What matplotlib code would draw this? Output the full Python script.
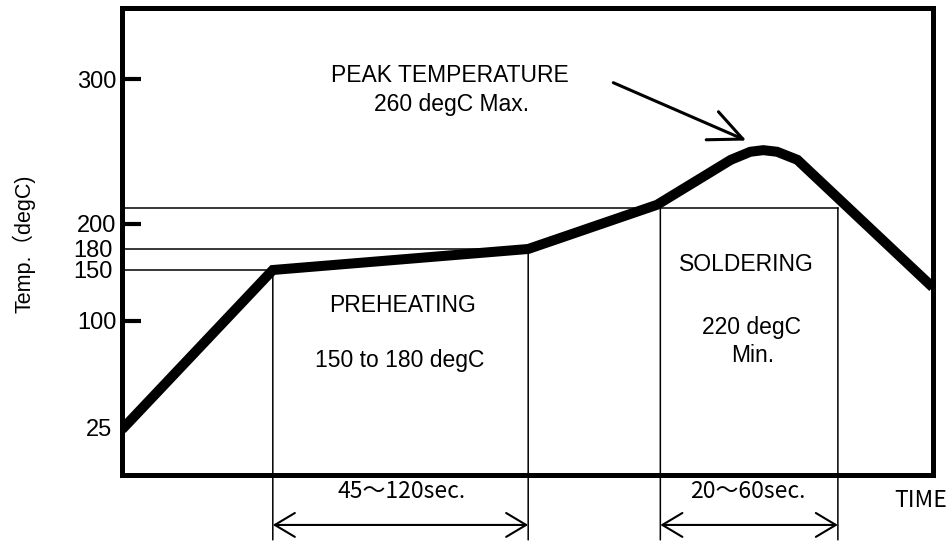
import matplotlib
matplotlib.use('Agg')
import matplotlib.pyplot as plt
import numpy as np

# reflow profile (schematic time units 0..100, temperature in degC)
time_pts = [0, 18.6, 50.1, 66.0, 75.1, 77.5, 79.1, 80.8, 83.3, 100]
temp_pts = [24, 150, 180, 222, 250, 255, 256, 255, 250, 133]

preheat_t = [18.6, 50.1]
solder_t = [66.4, 88.3]
preheat_temp = [150, 180]
solder_temp = 220

ytick_major = [100, 200, 300]
ytick_minor = [25, 150, 180]

# the axis in the drawing is not to scale: piecewise mapping temp -> height
scale_t = [-8, 25, 100, 150, 180, 200, 220, 300, 344]
scale_h = [0, 47, 154, 205, 226, 251, 267, 395.5, 466.7]


def fwd(t):
    return np.interp(t, scale_t, scale_h)


def inv(h):
    return np.interp(h, scale_h, scale_t)


plt.rcParams['font.family'] = ['Liberation Sans', 'Noto Sans CJK JP']

fig = plt.figure(figsize=(9.51, 5.41), dpi=100)
ax = fig.add_axes([0.1283, 0.122, 0.8525, 0.8627])
ax.set_yscale('function', functions=(fwd, inv))
ax.set_xlim(0, 100)
ax.set_ylim(-8, 344)

for sp in ax.spines.values():
    sp.set_linewidth(3.6)

ax.set_xticks([])
ax.yaxis.set_major_locator(matplotlib.ticker.FixedLocator(ytick_major))
ax.yaxis.set_major_formatter(matplotlib.ticker.FixedFormatter([str(v) for v in ytick_major]))
ax.yaxis.set_minor_locator(matplotlib.ticker.FixedLocator(ytick_minor))
ax.yaxis.set_minor_formatter(matplotlib.ticker.FixedFormatter([str(v) for v in ytick_minor]))
ax.tick_params(axis='y', which='major', direction='in', length=13.5, width=3, labelsize=17, pad=4)
ax.tick_params(axis='y', which='minor', length=0, labelsize=17, pad=7)

# guide lines
ax.plot([0, preheat_t[0]], [preheat_temp[0]] * 2, color='black', lw=1.1)
ax.plot([0, preheat_t[1]], [preheat_temp[1]] * 2, color='black', lw=1.1)
ax.plot([0, solder_t[1]], [solder_temp] * 2, color='black', lw=1.1)

xt = ax.get_xaxis_transform()
for x, t in [(preheat_t[0], preheat_temp[0]), (preheat_t[1], preheat_temp[1]),
             (solder_t[0], solder_temp), (solder_t[1], solder_temp)]:
    ax.annotate('', xy=(x, t), xycoords='data', xytext=(x, -0.139), textcoords=xt,
                arrowprops=dict(arrowstyle='-', lw=1.1, color='black', shrinkA=0, shrinkB=0),
                annotation_clip=False)

# profile
ax.plot(time_pts, temp_pts, color='black', lw=7.2, solid_joinstyle='miter', solid_capstyle='butt')

# duration arrows
for x0, x1 in [preheat_t, solder_t]:
    ax.annotate('', xy=(x0, -0.107), xycoords=xt, xytext=(x1, -0.107), textcoords=xt,
                arrowprops=dict(arrowstyle='<->, head_length=0.72, head_width=0.43', mutation_scale=20,
                                lw=1.5, color='black', shrinkA=0, shrinkB=0),
                annotation_clip=False)

# peak arrow
ax.annotate('', xy=(77.0, 262), xytext=(60.6, 298), xycoords='data',
            arrowprops=dict(arrowstyle='->, head_length=1.2, head_width=0.55', mutation_scale=20,
                            lw=2.2, color='black', shrinkA=0, shrinkB=0))

tkw = dict(transform=ax.transAxes, ha='center', va='center', fontsize=16.5)
ax.text(0.4046, 0.857, 'PEAK TEMPERATURE', **tkw)
ax.text(0.407, 0.793, '260 degC Max.', **tkw)
ax.text(0.3466, 0.364, 'PREHEATING', **tkw)
ax.text(0.343, 0.246, '150 to 180 degC', **tkw)
ax.text(0.770, 0.450, 'SOLDERING', **tkw)
ax.text(0.777, 0.317, '220 degC', **tkw)
ax.text(0.778, 0.257, 'Min.', **tkw)

ckw = dict(transform=ax.transAxes, ha='center', va='center', fontsize=16.5,
           family=['Noto Sans CJK JP'], clip_on=False)
ax.text(0.345, -0.036, '45〜120sec.', **ckw)
ax.text(0.772, -0.036, '20〜60sec.', **ckw)
ax.text(0.9856, -0.0536, 'TIME', **ckw)

fig.text(24 / 951, 1 - 244 / 541, 'Temp.（degC)', rotation=90, ha='center', va='center', fontsize=15.5)

fig.savefig('out.png', dpi=100)
